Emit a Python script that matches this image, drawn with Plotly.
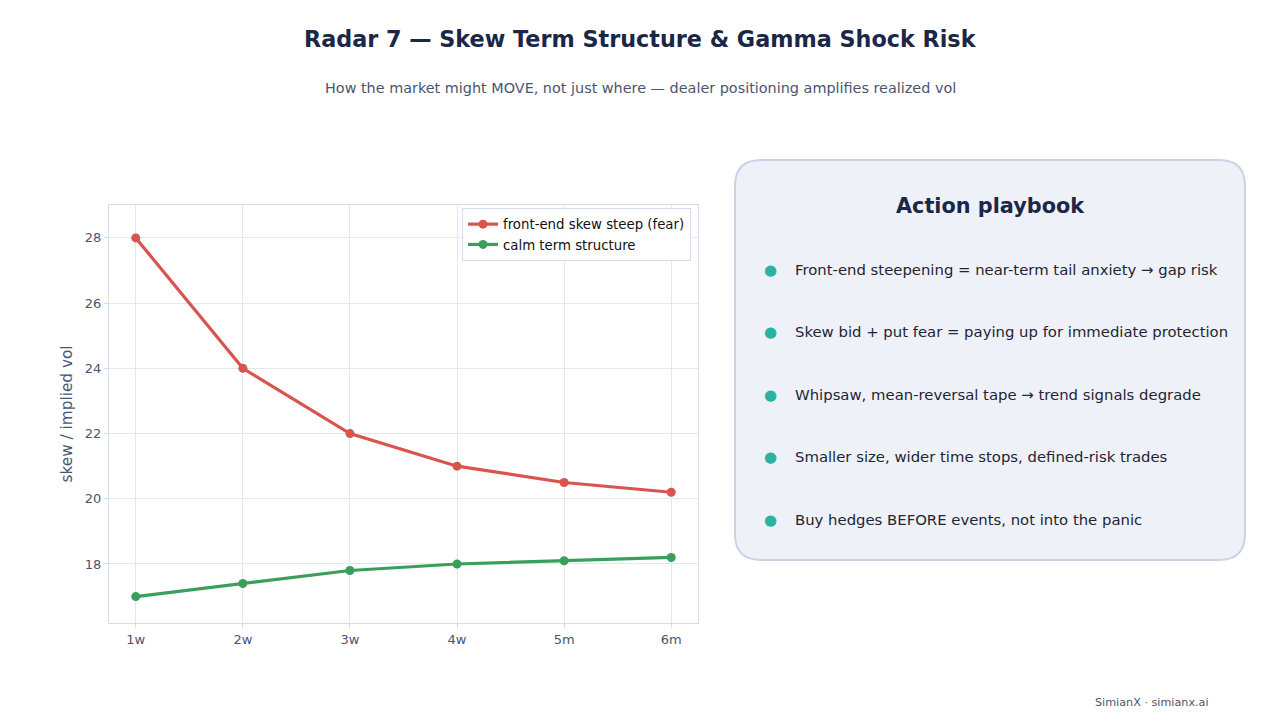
import plotly.graph_objects as go

tenors = ["1w", "2w", "3w", "4w", "5m", "6m"]
fear_skew = [28.0, 24.0, 22.0, 21.0, 20.5, 20.2]
calm_skew = [17.0, 17.4, 17.8, 18.0, 18.1, 18.2]
y_ticks = [18, 20, 22, 24, 26, 28]

title_text = "Radar 7 — Skew Term Structure & Gamma Shock Risk"
subtitle_text = "How the market might MOVE, not just where — dealer positioning amplifies realized vol"
panel_title = "Action playbook"
playbook = [
    "Front-end steepening = near-term tail anxiety → gap risk",
    "Skew bid + put fear = paying up for immediate protection",
    "Whipsaw, mean-reversal tape → trend signals degrade",
    "Smaller size, wider time stops, defined-risk trades",
    "Buy hedges BEFORE events, not into the panic",
]
footer = "SimianX · simianx.ai"

W, H = 1280, 720
OFF = 8  # page body margin offset
FONT = "DejaVu Sans"

def px(x):
    return (x - OFF) / W

def py(y):
    return 1 - (y - OFF) / H

fig = go.Figure()
fig.add_trace(go.Scatter(
    x=tenors, y=fear_skew, mode="lines+markers", name="front-end skew steep (fear)",
    line=dict(color="#d9534f", width=3.2), marker=dict(size=9, color="#d9534f"),
))
fig.add_trace(go.Scatter(
    x=tenors, y=calm_skew, mode="lines+markers", name="calm term structure",
    line=dict(color="#3a9e5c", width=3.2), marker=dict(size=9, color="#3a9e5c"),
))

x0, x1, y0, y1, r = 735, 1245, 160, 560, 26
def P(x, y):
    return f"{px(x):.5f},{py(y):.5f}"
path = (f"M {P(x0 + r, y0)} L {P(x1 - r, y0)} Q {P(x1, y0)} {P(x1, y0 + r)} "
        f"L {P(x1, y1 - r)} Q {P(x1, y1)} {P(x1 - r, y1)} "
        f"L {P(x0 + r, y1)} Q {P(x0, y1)} {P(x0, y1 - r)} "
        f"L {P(x0, y0 + r)} Q {P(x0, y0)} {P(x0 + r, y0)} Z")

shapes = [dict(type="path", xref="paper", yref="paper", path=path,
               fillcolor="#eef1f8", line=dict(color="#c9d3e6", width=2), layer="below")]

annotations = [
    dict(text=f"<b>{title_text}</b>", x=px(640), y=py(39), xref="paper", yref="paper",
         showarrow=False, font=dict(family=FONT, size=22.3, color="#1a2747"), xanchor="center", yanchor="middle"),
    dict(text=subtitle_text, x=px(640), y=py(88), xref="paper", yref="paper",
         showarrow=False, font=dict(family=FONT, size=14.4, color="#4a5570"), xanchor="center", yanchor="middle"),
    dict(text=f"<b>{panel_title}</b>", x=px(990), y=py(206), xref="paper", yref="paper",
         showarrow=False, font=dict(family=FONT, size=20.8, color="#1a2747"), xanchor="center", yanchor="middle"),
    dict(text=footer, x=px(1211), y=py(702), xref="paper", yref="paper",
         showarrow=False, font=dict(family=FONT, size=11.2, color="#4a5570"), xanchor="right", yanchor="middle"),
]
bullet_y = [270, 332, 395, 457, 520]
for t, by in zip(playbook, bullet_y):
    annotations.append(dict(text="●", x=px(770), y=py(by), xref="paper", yref="paper",
                            showarrow=False, font=dict(family=FONT, size=15, color="#2bb3a0"),
                            xanchor="center", yanchor="middle"))
    annotations.append(dict(text=t, x=px(793), y=py(by), xref="paper", yref="paper",
                            showarrow=False, font=dict(family=FONT, size=14.85, color="#1f2533"),
                            xanchor="left", yanchor="middle"))

axis_common = dict(showgrid=True, gridcolor="#e3e7f1", gridwidth=1, showline=True, linecolor="#d5dbe8",
                   linewidth=1, mirror=True, ticks="outside", ticklen=4, tickcolor="#d5dbe8",
                   tickfont=dict(family=FONT, size=13, color="#4a5570"), zeroline=False)

fig.update_layout(
    width=W, height=H, margin=dict(l=0, r=0, t=0, b=0),
    paper_bgcolor="white", plot_bgcolor="white",
    font=dict(family=FONT),
    xaxis=dict(domain=[px(109), px(698)], range=[-0.25, 5.25], **axis_common),
    yaxis=dict(domain=[py(623), py(205)], range=[16.19, 29.01], tickvals=y_ticks,
               title=dict(text="skew / implied vol", font=dict(family=FONT, size=15.3, color="#4a5570"), standoff=8),
               **axis_common),
    legend=dict(x=px(691), y=py(208), xanchor="right", yanchor="top", xref="paper", yref="paper",
                bgcolor="rgba(255,255,255,0.9)", bordercolor="#d5dbe8", borderwidth=1,
                font=dict(family=FONT, size=13.3, color="#111111"), itemwidth=30, tracegroupgap=2),
    shapes=shapes, annotations=annotations, showlegend=True,
)

fig.write_html("out.html")
